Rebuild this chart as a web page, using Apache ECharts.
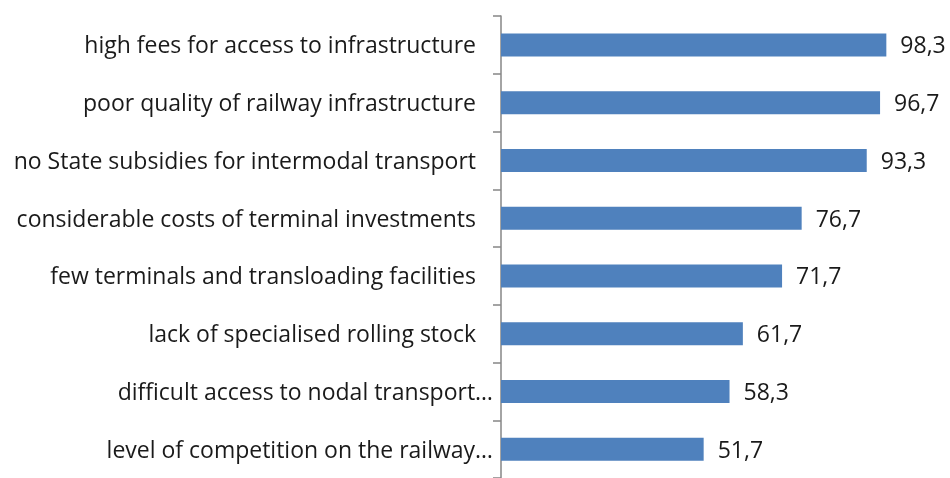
<!DOCTYPE html>
<html>
<head>
<meta charset="utf-8">
<script src="https://cdn.jsdelivr.net/npm/echarts@6/dist/echarts.min.js"></script>
<style>
  html, body { margin: 0; padding: 0; background: #fff; }
  #chart { width: 950px; height: 478px; }
</style>
</head>
<body>
<div id="chart"></div>
<script>
// categories, top to bottom as in the picture
const categories = [
  'high fees for access to infrastructure',
  'poor quality of railway infrastructure',
  'no State subsidies for intermodal transport',
  'considerable costs of terminal investments',
  'few terminals and transloading facilities',
  'lack of specialised rolling stock',
  'difficult access to nodal transport…',
  'level of competition on the railway…'
]
const values = [98.3, 96.7, 93.3, 76.7, 71.7, 61.7, 58.3, 51.7]

// labels cut by the original chart sit closer to the axis
const truncated = categories.map(c => c.endsWith('…'))

const FONT = 'Open Sans'
const SIZE = 23
const chart = echarts.init(document.getElementById('chart'))

chart.setOption({
  animation: false,
  grid: { left: 501, top: 16, width: 392, height: 469 },
  xAxis: {
    type: 'value',
    min: 0,
    max: 100,
    show: false
  },
  yAxis: {
    type: 'category',
    inverse: true,
    data: categories,
    axisLine: { show: true, lineStyle: { color: '#868686', width: 1.5 } },
    axisTick: { show: true, inside: false, length: 8, lineStyle: { color: '#868686', width: 1.5 } },
    axisLabel: {
      margin: 8,
      fontFamily: FONT,
      fontSize: SIZE,
      color: '#1a1a1a',
      formatter: (v, i) => truncated[i] ? '{t|' + v + '}' : '{n|' + v + '}',
      rich: {
        n: { fontFamily: FONT, fontSize: SIZE, color: '#1a1a1a', padding: [4, 17, 0, 0] },
        t: { fontFamily: FONT, fontSize: SIZE, color: '#1a1a1a', padding: [4, 0, 0, 0] }
      }
    }
  },
  series: [
    {
      type: 'bar',
      data: values,
      barWidth: 23,
      itemStyle: { color: '#4f81bd' },
      label: {
        show: true,
        position: 'right',
        distance: 14,
        offset: [0, 2],
        fontFamily: FONT,
        fontSize: SIZE,
        color: '#1a1a1a',
        formatter: p => String(p.value).replace('.', ',')
      }
    }
  ]
})
</script>
</body>
</html>
